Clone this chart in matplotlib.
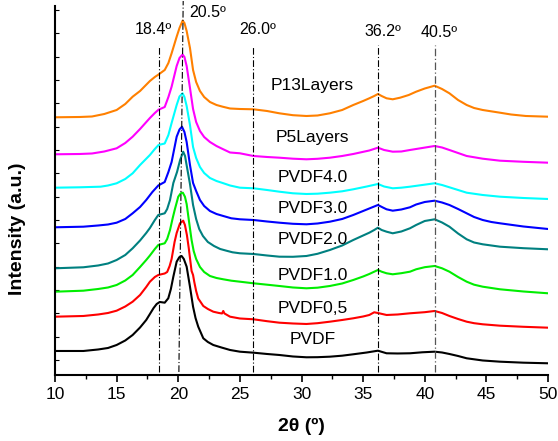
import numpy as np
import matplotlib
matplotlib.use('Agg')
import matplotlib.pyplot as plt

plt.rcParams['font.family'] = ['Liberation Sans', 'DejaVu Sans']

# XRD patterns (2theta in degrees, stacked intensity in a.u.)
x_pvdf = [10, 12.3, 13.5, 14.3, 15, 15.7, 16.3, 16.9, 17.4, 17.7, 18.0, 18.25, 18.5, 18.9, 19.19,
          19.4, 19.6, 19.87, 20.08, 20.27, 20.45, 20.68, 20.95, 21.2, 21.4, 21.62, 22.03, 22.4, 22.84, 23.5,
          24.2, 25, 26.1, 27.2, 28.2, 29.3, 30.4, 31.3, 32.3, 33.3, 34.2, 35.3, 36.2, 36.9, 37.8,
          38.8, 39.8, 40.8, 41.4, 42, 42.7, 43.4, 44.7, 46.1, 48, 50]
y_pvdf = [24, 24, 25.5, 27, 30, 34.5, 40, 47.5, 55, 61, 67, 71, 73, 72.3, 76.7,
          86, 98.3, 113.3, 117.7, 119, 116, 108.3, 88.3, 68.3, 57, 48.3, 36.7, 33, 30, 27.5,
          25, 23.3, 22.3, 21, 20, 18.5, 17.7, 17.8, 18.3, 19.3, 20.7, 22.5, 24.3, 21.7, 21.5,
          21.7, 22.7, 23.3, 22.5, 21, 19, 16.7, 14.5, 13.3, 12.3, 11.7]

x_p05 = [10, 12.3, 13.5, 14.3, 15, 15.7, 16.3, 16.9, 17.4, 17.7, 18.1, 18.38, 18.9, 19.1, 19.3,
         19.46, 19.7, 19.87, 20.14, 20.4, 20.54, 20.7, 20.85, 20.95, 21.08, 21.2, 21.3, 21.45, 21.62, 22.03,
         22.4, 22.84, 23.3, 23.55, 23.65, 23.75, 24.2, 25, 26.1, 27.2, 28.2, 29.3, 30.4, 31.3, 32.3,
         33.3, 34.2, 35, 35.5, 35.9, 36.3, 36.9, 37.8, 38.8, 40, 40.8, 41.4, 42, 42.7, 43.4,
         44, 44.7, 46.1, 48, 50]
y_p05 = [58.3, 59, 60.5, 62, 64.3, 68.5, 73.3, 80, 88, 93.3, 98, 100, 101.5, 103, 109,
         116, 133, 142, 151.7, 154.3, 150, 140, 127, 117, 104, 100, 93, 84, 76.5, 69,
         66, 63.3, 62, 61.5, 64, 61.5, 58.3, 56.5, 55.7, 53.8, 52.3, 51.5, 51, 51.8, 53.3,
         55, 56.7, 58.5, 60, 62.7, 61.7, 60, 60.5, 61.7, 62.8, 64, 62, 59, 56, 53.3,
         51.8, 50.7, 49.3, 48.2, 47.3]

x_p10 = [10, 12.3, 13.5, 14.3, 15, 15.7, 16.3, 16.9, 17.4, 17.7, 18.1, 18.38, 18.9, 19.1, 19.33,
         19.55, 19.73, 20.0, 20.2, 20.37, 20.54, 20.68, 20.9, 21.08, 21.25, 21.45, 21.76, 22.1, 22.57, 23.1,
         23.65, 24.3, 25, 26.1, 27.2, 28.2, 29.3, 30.4, 31.3, 32.3, 33.3, 34.2, 35, 35.5, 35.9,
         36.2, 36.5, 36.9, 37.4, 38.1, 38.8, 39.3, 40, 40.8, 41.4, 42, 42.7, 43.4, 44, 44.7,
         46.1, 48, 50]
y_p10 = [83.3, 84.3, 86, 87.5, 90, 94.5, 100, 108, 115, 119.5, 126, 130, 131.7, 136, 145,
         157, 166, 178.3, 181.7, 182.3, 178.3, 171, 151, 135, 124, 116, 108, 103, 99, 97,
         95.7, 94.3, 93.3, 91.7, 90.3, 89, 87.5, 86.7, 87.3, 89, 91.5, 95, 98.5, 101, 103.3,
         105, 103.3, 101.7, 100.7, 101.8, 103.3, 105.7, 107.8, 109, 106.7, 103.3, 98, 93.3, 90.3, 88.3,
         85.7, 83.5, 81.7]

x_p20 = [10, 12.3, 13.5, 14.3, 15, 15.7, 16.3, 16.9, 17.4, 17.7, 18.1, 18.38, 18.9, 19.1, 19.33,
         19.6, 19.9, 20.15, 20.4, 20.55, 20.7, 20.95, 21.2, 21.45, 21.7, 22.0, 22.4, 22.9, 23.4, 23.9,
         24.4, 25, 26.1, 27.2, 28.2, 29.3, 30.4, 31.3, 32.3, 33.3, 34.2, 35, 35.5, 35.9, 36.2,
         36.5, 36.9, 37.4, 38.1, 38.8, 39.3, 40, 40.8, 41.4, 42, 42.7, 43.4, 44, 44.7, 46.1,
         48, 50]
y_p20 = [106.7, 107.7, 109.5, 111.5, 115, 120, 126.7, 134.5, 142, 147, 155, 160, 161.7, 166, 175,
         192, 203, 215, 223.3, 219, 208.3, 191, 170, 156, 146, 139, 133, 129, 126, 124.3,
         122.7, 121.7, 121, 119.5, 118.3, 118.2, 119, 121.2, 125, 129.5, 135, 139.5, 142.3, 145, 147.3,
         145, 143.3, 141.7, 143.5, 146.7, 150, 154, 155.7, 152.5, 148.3, 141.5, 135.7, 132.5, 130.7, 128.3,
         126.8, 125.7]

x_p30 = [10, 12.3, 13.5, 14.3, 15, 15.7, 16.3, 16.9, 17.4, 17.9, 18.38, 18.9, 19.2, 19.46, 19.87,
         20.1, 20.3, 20.5, 20.68, 20.95, 21.2, 21.45, 21.76, 22.1, 22.57, 23.1, 23.65, 24.3, 25, 26.1,
         27.2, 28.2, 29.3, 30.4, 31.3, 32.3, 33.3, 34.2, 35.3, 36.2, 36.6, 36.9, 37.4, 38.1, 38.8,
         39.3, 40, 40.8, 41.4, 42, 42.7, 43.4, 44, 44.7, 45.4, 46.1, 48, 50]
y_p30 = [147.7, 148.3, 149.5, 150.5, 152.3, 156, 161.7, 168, 175, 183, 189.5, 193, 203, 213, 238.3,
         245.5, 248.3, 243, 233, 210, 192, 184, 175, 169, 164, 161, 159, 156.7, 155.7, 155,
         153.5, 152.3, 151.2, 150.7, 151.5, 153.3, 156, 160, 165.5, 170, 167.5, 165.7, 164.3, 165.5, 167.7,
         170.5, 173, 174.3, 172.5, 170, 166, 161.7, 158, 155, 153, 151.7, 148.5, 146]

x_p40 = [10, 12, 13.7, 14.3, 15, 15.7, 16.3, 16.9, 17.7, 18.1, 18.4, 18.9, 19.2, 19.46, 19.87,
         20.1, 20.35, 20.5, 20.68, 20.95, 21.2, 21.45, 21.76, 22.1, 22.57, 23.1, 23.6, 24.2, 25, 26.1,
         27.2, 28.2, 29.3, 30.4, 31.3, 32.3, 33.3, 34.2, 35.3, 36.2, 36.7, 37.4, 38.1, 38.8, 39.8,
         40.8, 41.4, 42, 42.7, 43.4, 44.7, 46.1, 48, 50]
y_p40 = [187.3, 187.7, 188.3, 189.5, 191.7, 196, 201.7, 210, 220, 226, 230, 231.5, 240, 252, 270,
         278.5, 281.7, 278, 269, 250, 228, 217, 208, 202, 197, 194, 192, 189.5, 187.3, 186.7,
         185, 183.3, 181.7, 181, 181.3, 182.3, 183.7, 185.7, 188.5, 191, 188.5, 186.7, 187.3, 188.3, 190,
         191.7, 190, 187.7, 185, 182.3, 180, 178.3, 177, 176]

x_p5l = [10, 12, 13, 14, 15, 15.7, 16.3, 16.9, 17.7, 18.1, 18.4, 18.9, 19.2, 19.46, 19.87,
         20.1, 20.35, 20.5, 20.68, 20.95, 21.2, 21.45, 21.76, 22.1, 22.57, 23.1, 23.6, 24.2, 25, 26.1,
         27.2, 28.2, 29.3, 30.4, 31.3, 32.3, 33.3, 34.2, 35.5, 36.2, 36.7, 37.4, 38.1, 38.8, 39.8,
         40.8, 41.4, 42, 42.7, 43.4, 44.7, 46.1, 48, 50]
y_p5l = [220.7, 221, 221.5, 223.5, 226.7, 232, 238.3, 246, 257, 262, 265.3, 268, 278, 288.3, 309,
         317, 320.5, 318, 309, 287, 266, 253, 244, 238, 233, 229, 226, 222.5, 221.7, 219,
         218, 217.3, 216.3, 215.7, 216.2, 217.3, 219, 221, 224.5, 227.3, 225, 223.3, 223.5, 225, 227,
         229, 227.5, 225, 222, 219, 216.3, 214.3, 213.2, 212.3]

x_p13l = [10, 12, 13, 14, 15, 15.7, 16.3, 16.9, 17.7, 18.1, 18.4, 18.9, 19.2, 19.46, 19.87,
          20.1, 20.35, 20.5, 20.68, 20.95, 21.2, 21.45, 21.76, 22.1, 22.57, 23.1, 23.6, 24.2, 25, 26.1,
          27.2, 28.2, 29.3, 30.4, 31.3, 32.3, 33.3, 34.2, 35, 35.5, 35.9, 36.2, 36.5, 36.9, 37.4,
          38, 38.7, 39.3, 40, 40.8, 41.4, 42, 42.7, 43.4, 44, 44.7, 46.1, 47, 48.2, 50]
y_p13l = [257.7, 258, 258.5, 261, 265, 271, 278.3, 284, 294, 298, 300.5, 305, 312, 321.7, 338.3,
          347, 354.3, 352, 344, 327, 305, 293, 284, 278, 273, 270, 268.3, 266.5, 266, 265.7,
          264, 261.7, 259.8, 259, 259.5, 261.7, 265, 270, 274, 276.7, 279, 281, 279, 276.7, 275.7,
          277.3, 280, 283.3, 286.5, 289.3, 286, 281.7, 275, 270, 267, 265, 262.3, 260.5, 259, 258.3]

series_x = [x_pvdf, x_p05, x_p10, x_p20, x_p30, x_p40, x_p5l, x_p13l]
series_y = [y_pvdf, y_p05, y_p10, y_p20, y_p30, y_p40, y_p5l, y_p13l]
names = ['PVDF', 'PVDF0,5', 'PVDF1.0', 'PVDF2.0', 'PVDF3.0', 'PVDF4.0', 'P5Layers', 'P13Layers']
colors = ['#000000', '#ff0000', '#00ee00', '#008080', '#0000ff', '#00ffff', '#ff00ff', '#ff8000']
label_y = [35.7, 66.7, 99.3, 135.7, 166.7, 197, 237.3, 289]

# reference peak positions
peak_pos = [18.46, 20.2, 26.08, 36.22, 40.82]
peak_txt = ['18.4º', '20.5º', '26.0º', '36.2º', '40.5º']

fig = plt.figure(figsize=(5.58, 4.41), dpi=100)
ax = fig.add_axes([0.0986, 0.1497, 0.8835, 0.8367])

for xs, ys, c in zip(series_x, series_y, colors):
    ax.plot(xs, ys, color=c, lw=1.5)

for name, ly in zip(names, label_y):
    ax.text(30.9, ly, name, fontsize=12.5, ha='center', va='center')

dash = (0, (6, 2, 1, 2))
ax.plot([peak_pos[0]] * 2, [3, 329], color='black', lw=0.8, ls=dash)
ax.plot([20.05, 20.4], [3, 374], color='black', lw=0.8, ls=dash, clip_on=False)
ax.plot([peak_pos[2]] * 2, [3, 328], color='black', lw=0.8, ls=dash)
ax.plot([peak_pos[3]] * 2, [3, 330], color='black', lw=0.8, ls=dash)
ax.plot([peak_pos[4]] * 2, [3, 330], color='#555555', lw=0.9, ls=dash)

txt_xy = [(17.95, 345), (22.4, 362), (26.46, 345), (36.6, 343), (41.2, 342)]
for (tx, ty), t in zip(txt_xy, peak_txt):
    ax.text(tx, ty, t, fontsize=11.5, ha='center', va='center')

ax.set_xlim(10, 50)
ax.set_ylim(0, 369)
ax.set_xticks(np.arange(10, 51, 5))
ax.set_xticks(np.arange(10, 51, 2.5), minor=True)
ax.set_yticks(np.arange(15, 369, 23.33))
ax.set_yticklabels([])
ax.tick_params(axis='x', which='major', direction='out', length=5, width=1.2, labelsize=12.5)
ax.tick_params(axis='x', which='minor', direction='out', length=3, width=1)
ax.tick_params(axis='y', direction='in', length=3, width=0.8)
for s in ['top', 'right']:
    ax.spines[s].set_visible(False)
for s in ['left', 'bottom']:
    ax.spines[s].set_linewidth(1.5)

ax.set_xlabel('2θ (º)', fontsize=14, fontweight='bold')
ax.xaxis.set_label_coords(0.5, -0.117)
ax.set_ylabel('Intensity (a.u.)', fontsize=14, fontweight='bold')
ax.yaxis.set_label_coords(-0.058, 0.396)

fig.savefig('out.png', dpi=100)
